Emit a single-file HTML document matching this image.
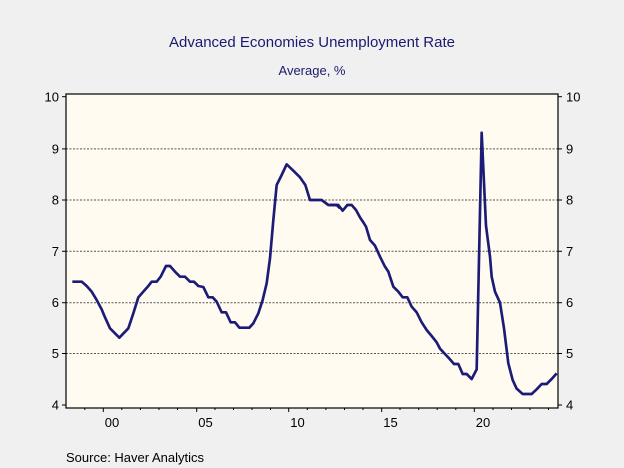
<!DOCTYPE html>
<html><head><meta charset="utf-8"><style>
html,body{margin:0;padding:0;background:#f0f0f0;}
svg{display:block;font-family:"Liberation Sans",sans-serif;}
</style></head><body>
<svg width="624" height="468" viewBox="0 0 624 468">
<rect width="624" height="468" fill="#f0f0f0"/>
<text x="312" y="47" text-anchor="middle" font-size="15" fill="#1a1a6e">Advanced Economies Unemployment Rate</text>
<text x="312" y="75" text-anchor="middle" font-size="13" fill="#1a1a6e">Average, %</text>
<rect x="66" y="94" width="492" height="314" fill="#fffbf0"/>
<g stroke="#555" stroke-width="1" stroke-dasharray="2,1.5">
<line x1="66" x2="558" y1="148.9" y2="148.9"/>
<line x1="66" x2="558" y1="200" y2="200"/>
<line x1="66" x2="558" y1="251.3" y2="251.3"/>
<line x1="66" x2="558" y1="302.7" y2="302.7"/>
<line x1="66" x2="558" y1="353.5" y2="353.5"/>
</g>
<rect x="66" y="94" width="492" height="314" fill="none" stroke="#000" stroke-width="1.2"/>
<g stroke="#000" stroke-width="1">
<line x1="62" x2="66" y1="96.7" y2="96.7"/><line x1="62" x2="66" y1="148.9" y2="148.9"/><line x1="62" x2="66" y1="200" y2="200"/><line x1="62" x2="66" y1="251.3" y2="251.3"/><line x1="62" x2="66" y1="302.7" y2="302.7"/><line x1="62" x2="66" y1="353.5" y2="353.5"/><line x1="62" x2="66" y1="405" y2="405"/>
<line x1="558" x2="562" y1="96.7" y2="96.7"/><line x1="558" x2="562" y1="148.9" y2="148.9"/><line x1="558" x2="562" y1="200" y2="200"/><line x1="558" x2="562" y1="251.3" y2="251.3"/><line x1="558" x2="562" y1="302.7" y2="302.7"/><line x1="558" x2="562" y1="353.5" y2="353.5"/><line x1="558" x2="562" y1="405" y2="405"/>
<line x1="103.3" x2="103.3" y1="408" y2="412"/><line x1="196.7" x2="196.7" y1="408" y2="412"/><line x1="288.7" x2="288.7" y1="408" y2="412"/><line x1="381.7" x2="381.7" y1="408" y2="412"/><line x1="474.3" x2="474.3" y1="408" y2="412"/>
<line x1="84.8" x2="84.8" y1="408" y2="410"/><line x1="121.8" x2="121.8" y1="408" y2="410"/><line x1="140.4" x2="140.4" y1="408" y2="410"/><line x1="159" x2="159" y1="408" y2="410"/><line x1="177.5" x2="177.5" y1="408" y2="410"/><line x1="215" x2="215" y1="408" y2="410"/><line x1="233.5" x2="233.5" y1="408" y2="410"/><line x1="252" x2="252" y1="408" y2="410"/><line x1="270.5" x2="270.5" y1="408" y2="410"/><line x1="307.3" x2="307.3" y1="408" y2="410"/><line x1="325.9" x2="325.9" y1="408" y2="410"/><line x1="344.5" x2="344.5" y1="408" y2="410"/><line x1="363" x2="363" y1="408" y2="410"/><line x1="400" x2="400" y1="408" y2="410"/><line x1="418.7" x2="418.7" y1="408" y2="410"/><line x1="437.2" x2="437.2" y1="408" y2="410"/><line x1="455.8" x2="455.8" y1="408" y2="410"/><line x1="493" x2="493" y1="408" y2="410"/><line x1="511.5" x2="511.5" y1="408" y2="410"/><line x1="530" x2="530" y1="408" y2="410"/><line x1="548.5" x2="548.5" y1="408" y2="410"/>
</g>
<g font-size="13" fill="#000" text-anchor="end">
<text x="59" y="101.5">10</text><text x="59" y="153.5">9</text><text x="59" y="204.5">8</text><text x="59" y="256">7</text><text x="59" y="307">6</text><text x="59" y="358">5</text><text x="59" y="409.5">4</text>
</g>
<g font-size="13" fill="#000">
<text x="566" y="101.5">10</text><text x="566" y="153.5">9</text><text x="566" y="204.5">8</text><text x="566" y="256">7</text><text x="566" y="307">6</text><text x="566" y="358">5</text><text x="566" y="409.5">4</text>
</g>
<g font-size="13" fill="#000" text-anchor="middle">
<text x="112" y="427">00</text><text x="205.5" y="427">05</text><text x="297.5" y="427">10</text><text x="390.5" y="427">15</text><text x="483" y="427">20</text>
</g>
<g transform="translate(40,80) scale(0.33333)" fill="none" stroke="#1c1c78" stroke-width="8" stroke-linejoin="round">
<polyline points="97,605 125,605 140,618 155,635 170,660 185,688 195,712 210,745 238,773 265,745 280,700 295,652 310,635 325,618 335,605 350,605 362,590 378,558 390,558 405,575 420,590 435,590 450,605 462,605 475,618 490,621 505,652 518,652 530,665 545,697 558,697 572,727 585,727 598,743 628,743 640,730 655,700 668,660 680,610 690,535 700,420 710,315 725,285 740,253 760,272 780,292 796,315 810,360 845,360 865,375 890,375 900,385"/>
</g>
<g transform="translate(330,80) scale(0.33333)" fill="none" stroke="#1c1c78" stroke-width="8" stroke-linejoin="round">
<polyline points="0,375 25,375 38,392 52,375 65,375 78,390 90,412 100,427 108,440 120,480 135,497 150,530 165,560 175,575 190,620 205,635 218,652 232,652 245,680 260,697 275,727 290,750 305,768 320,787 330,806 345,822 360,838 372,852 385,852 398,882 410,882 425,897 440,868 455,158 468,437 480,530 485,590 495,635 510,668 522,745 535,850 548,900 560,926 578,942 605,942 620,928 635,912 650,912 665,897 680,880"/>
</g>
<text x="66" y="462" font-size="13" fill="#000">Source:  Haver Analytics</text>
</svg>
</body></html>
